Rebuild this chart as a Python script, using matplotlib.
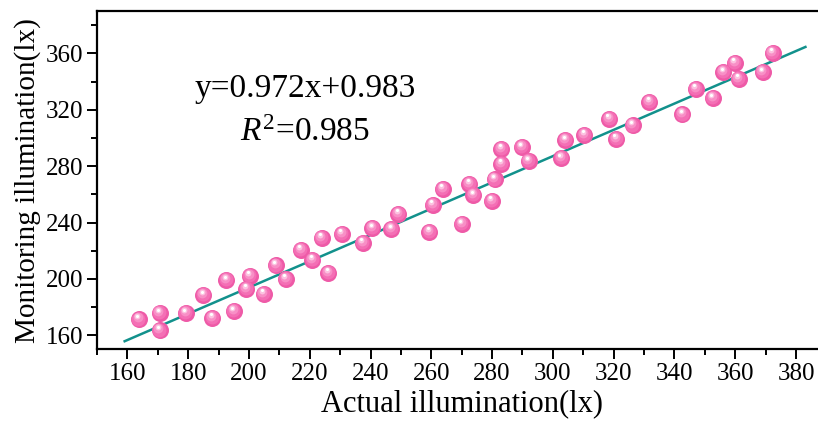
import matplotlib
matplotlib.use("Agg")
import matplotlib.pyplot as plt
from matplotlib.transforms import offset_copy
from matplotlib.ticker import MultipleLocator

actual = [163.8, 170.6, 170.6, 179.2, 185.0, 187.9, 192.6, 195.0, 199.1, 200.3,
          204.8, 208.9, 212.1, 217.0, 220.8, 223.9, 226.1, 230.6, 237.4, 240.6,
          246.8, 249.1, 259.3, 260.5, 263.8, 270.0, 272.5, 273.8, 279.9, 280.8,
          283.0, 283.0, 289.8, 292.0, 302.7, 304.1, 310.4, 318.5, 320.8, 326.2,
          331.7, 342.6, 347.1, 352.6, 356.1, 359.8, 361.1, 369.0, 372.3]
monitor = [171.3, 175.8, 163.5, 175.8, 188.4, 172.6, 199.0, 177.0, 193.1, 202.1,
           189.6, 209.6, 200.2, 220.8, 213.7, 229.3, 204.5, 232.1, 225.5, 236.1,
           235.2, 246.3, 233.3, 252.7, 264.0, 238.7, 267.6, 259.3, 255.3, 270.6,
           281.8, 292.4, 293.5, 283.6, 285.7, 298.3, 302.3, 313.7, 299.5, 308.9,
           325.5, 316.7, 335.0, 328.3, 346.7, 353.4, 341.8, 346.7, 360.5]

# fitted line as drawn
fit_x = [159.1, 383.1]
fit_y = [155.8, 364.5]

eq_text = "y=0.972x+0.983"
r2_text = r"$R^2$=0.985"

plt.rcParams['font.family'] = ['Liberation Serif', 'DejaVu Serif']
plt.rcParams['mathtext.fontset'] = 'custom'
plt.rcParams['mathtext.rm'] = 'Liberation Serif'
plt.rcParams['mathtext.it'] = 'Liberation Serif:italic'

fig = plt.figure(figsize=(8.18, 4.21), dpi=100)
ax = fig.add_axes([97 / 818, 1 - 349.4 / 421, 729.4 / 818, 338.4 / 421])

ax.plot(fit_x, fit_y, color='#12918c', lw=1.8, zorder=2)

# fake shaded spheres: stacked circles with a highlight shifted up-left
layers = [(150, '#ee5aa7', 0, 0),
          (100, '#f46fb5', -0.4, 0.6),
          (50, '#f88fc6', -0.8, 1.4),
          (18, '#fcc2e0', -1.1, 2.1),
          (5, 'white', -1.2, 2.5)]
for s, c, dx, dy in layers:
    tr = offset_copy(ax.transData, fig=fig, x=dx, y=dy, units='points')
    ax.scatter(actual, monitor, s=s, color=c, linewidths=0, transform=tr, zorder=3)

ax.set_xlim(150, 390)
ax.set_ylim(150, 390)
ax.xaxis.set_major_locator(MultipleLocator(20))
ax.xaxis.set_minor_locator(MultipleLocator(10))
ax.yaxis.set_major_locator(MultipleLocator(40))
ax.yaxis.set_minor_locator(MultipleLocator(20))
ax.tick_params(which='major', length=7, width=1.4, labelsize=18, direction='out', pad=3)
ax.tick_params(which='minor', length=4, width=1.4, direction='out')
ax.spines['right'].set_visible(False)
for side in ['left', 'bottom', 'top']:
    ax.spines[side].set_linewidth(1.6)

ax.set_xlabel('Actual illumination(lx)', fontsize=22, labelpad=3)
ax.set_ylabel('Monitoring illumination(lx)', fontsize=21, labelpad=3)

ax.text(218.5, 334.7, eq_text, fontsize=24, ha='center', va='center')
ax.text(218.5, 303.5, r2_text, fontsize=24, ha='center', va='center')

plt.savefig("out.png", dpi=100)
